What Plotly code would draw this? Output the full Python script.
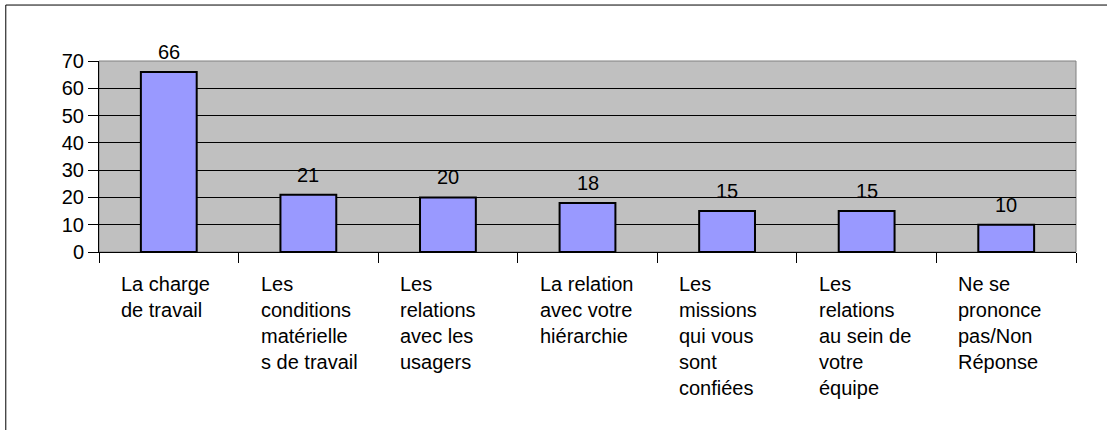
import plotly.graph_objects as go

# categories (wrapped like the original labels) and counts
categories = [
    "La charge<br>de travail",
    "Les<br>conditions<br>matérielle<br>s de travail",
    "Les<br>relations<br>avec les<br>usagers",
    "La relation<br>avec votre<br>hiérarchie",
    "Les<br>missions<br>qui vous<br>sont<br>confiées",
    "Les<br>relations<br>au sein de<br>votre<br>équipe",
    "Ne se<br>prononce<br>pas/Non<br>Réponse",
]
values = [66, 21, 20, 18, 15, 15, 10]
y_ticks = [0, 10, 20, 30, 40, 50, 60, 70]

font = "Liberation Sans, Arial, sans-serif"
pos = list(range(len(values)))

fig = go.Figure()
fig.add_trace(go.Bar(x=pos, y=values, width=0.4,
                     marker=dict(color="#9999FF", line=dict(color="black", width=2)),
                     hoverinfo="y"))

# value labels above the bars
for i, v in zip(pos, values):
    fig.add_annotation(x=i, y=v, text=str(v), showarrow=False, yanchor="bottom",
                       yshift=7, font=dict(family=font, size=20, color="black"))

# category labels, left aligned inside each slot
for i, c in zip(pos, categories):
    fig.add_annotation(x=i - 0.5, xref="x", y=0, yref="paper", text=c, showarrow=False,
                       xanchor="left", yanchor="top", align="left", xshift=20, yshift=-19,
                       font=dict(family=font, size=20, color="black"))

# grey right edge of plot area and outer chart frame
fig.add_shape(type="rect", xref="paper", yref="paper", x0=0, x1=1, y0=0, y1=1,
              line=dict(color="#808080", width=1), layer="below")
fig.add_shape(type="rect", xref="paper", yref="paper", x0=-0.0954, x1=1.05, y0=-1.2, y1=1.293,
              line=dict(color="black", width=1))

fig.update_xaxes(range=[-0.5, len(values) - 0.5], tickvals=[i - 0.5 for i in range(len(values) + 1)],
                 showticklabels=False, ticks="outside", ticklen=10, tickcolor="black",
                 showgrid=False, showline=True, linecolor="black", linewidth=1, zeroline=False)
fig.update_yaxes(range=[0, 70], tickvals=y_ticks, ticks="outside", ticklen=10, tickcolor="black",
                 showgrid=True, gridcolor="black", gridwidth=1, showline=True, linecolor="black",
                 zeroline=False, tickfont=dict(family=font, size=20, color="black"))

fig.update_layout(width=1107, height=430, margin=dict(l=99, r=31, t=61, b=178),
                  plot_bgcolor="#C0C0C0", paper_bgcolor="white", showlegend=False,
                  font=dict(family=font, color="black"))

fig.write_html("out.html", config={"displayModeBar": False},
               post_script="document.body.style.margin='0';")
